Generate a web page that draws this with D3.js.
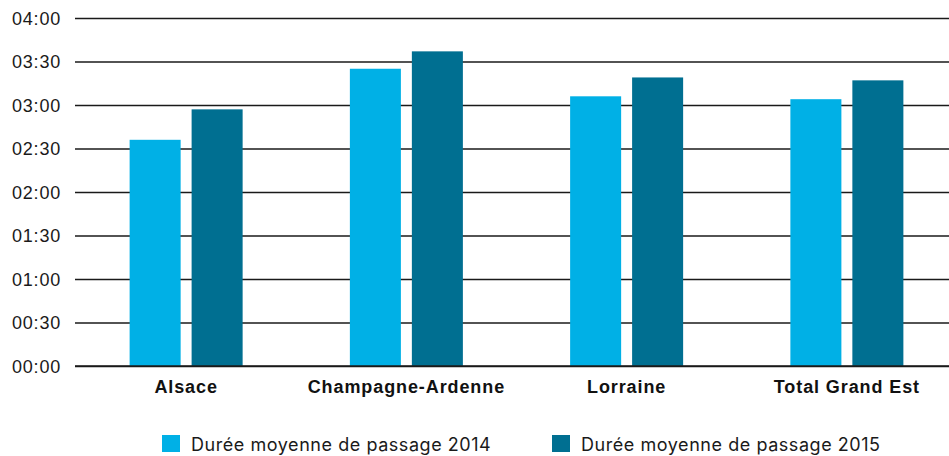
<!DOCTYPE html>
<html>
<head>
<meta charset="utf-8">
<script src="https://cdn.jsdelivr.net/npm/d3@7"></script>
<style>
  html, body { margin: 0; padding: 0; background: #fff; }
  svg { display: block; font-family: Inter, Roboto, "Noto Sans", sans-serif; }
</style>
</head>
<body>
<svg id="chart" width="949" height="456"></svg>
<script>
// Average passage duration per region, in minutes
const categories = ["Alsace", "Champagne-Ardenne", "Lorraine", "Total Grand Est"];
const seriesNames = ["Durée moyenne de passage 2014", "Durée moyenne de passage 2015"];
const values2014 = [156, 205, 186, 184];
const values2015 = [177, 217, 199, 197];
const tickMinutes = [0, 30, 60, 90, 120, 150, 180, 210, 240];
const colors = ["#00b0e6", "#006f91"];

const svg = d3.select("#chart");
const plot = { left: 75, right: 949, top: 18, bottom: 366 };

const y = d3.scaleLinear().domain([0, 240]).range([plot.bottom, plot.top]);
const x0 = d3.scaleBand().domain(categories).range([76, 957]).paddingInner(0).paddingOuter(0);
const x1 = d3.scaleBand().domain(seriesNames).range([0, x0.bandwidth()])
  .paddingInner(0.177).paddingOuter(0.865);

const fmt = m => String(Math.floor(m / 60)).padStart(2, "0") + ":" + String(m % 60).padStart(2, "0");

// Gridlines and time labels
const yAxis = d3.axisLeft(y).tickValues(tickMinutes).tickFormat(fmt)
  .tickSize(-(plot.right - plot.left)).tickPadding(14);
const gy = svg.append("g").attr("transform", `translate(${plot.left},0)`).call(yAxis);
gy.select(".domain").remove();
gy.selectAll(".tick line").attr("stroke", "#1a1a1a").attr("stroke-width", 1.3);
gy.selectAll(".tick text").attr("fill", "#1a1a1a").style("font-size", "18px")
  .style("letter-spacing", "0.8px").attr("dy", "0.36em");

// Bars
const rows = categories.map((c, i) => ({ cat: c, vals: [values2014[i], values2015[i]] }));
const groups = svg.append("g").selectAll("g").data(rows).join("g")
  .attr("transform", d => `translate(${x0(d.cat)},0)`);
groups.selectAll("rect").data(d => d.vals.map((v, j) => ({ s: seriesNames[j], v, j })))
  .join("rect")
  .attr("x", d => x1(d.s))
  .attr("width", x1.bandwidth())
  .attr("y", d => y(d.v))
  .attr("height", d => y(0) - y(d.v))
  .attr("fill", d => colors[d.j]);

// Baseline redrawn above bars
svg.append("line").attr("x1", plot.left).attr("x2", plot.right)
  .attr("y1", y(0)).attr("y2", y(0)).attr("stroke", "#1a1a1a").attr("stroke-width", 1.3);

// Category labels
const xAxis = d3.axisBottom(x0).tickSize(0).tickPadding(14);
const gx = svg.append("g").attr("transform", `translate(0,${plot.bottom})`).call(xAxis);
gx.select(".domain").remove();
gx.selectAll(".tick text").attr("fill", "#111").style("font-size", "18px")
  .style("font-weight", "bold").style("letter-spacing", "0.9px");

// Legend
const legendX = [162, 552];
const legend = svg.append("g").selectAll("g").data(seriesNames).join("g")
  .attr("transform", (d, i) => `translate(${legendX[i]},435)`);
legend.append("rect").attr("width", 18).attr("height", 17).attr("fill", (d, i) => colors[i]);
legend.append("text").attr("x", 29).attr("y", 16).text(d => d)
  .attr("fill", "#1a1a1a").style("font-size", "18px").style("letter-spacing", "0.55px");
</script>
</body>
</html>
